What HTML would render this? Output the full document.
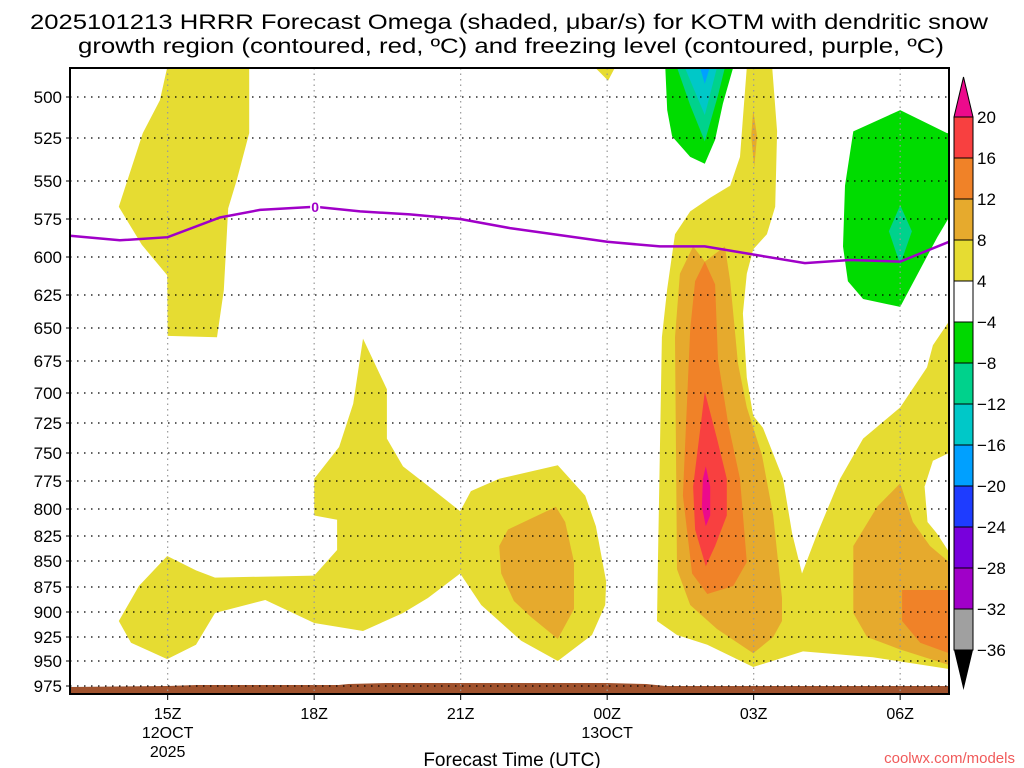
<!DOCTYPE html>
<html><head><meta charset="utf-8"><style>
html,body{margin:0;padding:0;background:#fff;}
svg{display:block;font-family:"Liberation Sans",sans-serif;}
</style></head><body>
<svg id="chart" width="1024" height="768" viewBox="0 0 1024 768" xmlns="http://www.w3.org/2000/svg">
<rect width="1024" height="768" fill="#fff"/>
<text x="30" y="29" font-size="21" textLength="958" lengthAdjust="spacingAndGlyphs">2025101213 HRRR Forecast Omega (shaded, μbar/s) for KOTM with dendritic snow</text>
<text x="78" y="53" font-size="21" textLength="866" lengthAdjust="spacingAndGlyphs">growth region (contoured, red, ºC) and freezing level (contoured, purple, ºC)</text>
<g id="fills"></g><g id="grid"></g><g id="lines"></g><g id="axes"></g><g id="cbar"></g>
<text x="512" y="766" font-size="19" text-anchor="middle">Forecast Time (UTC)</text>
<text x="1015" y="763" font-size="15" fill="#f05a5a" text-anchor="end">coolwx.com/models</text>
</svg>
<script>
// ---- data ----
const pressureTicks=[500,525,550,575,600,625,650,675,700,725,750,775,800,825,850,875,900,925,950,975];
const xTickHours=[2,5,8,11,14,17];
const xTickLabels=[["15Z","12OCT","2025"],["18Z"],["21Z"],["00Z","13OCT"],["03Z"],["06Z"]];
const freezeHours=[0,1.02,2,3.07,3.89,5.02,5.94,6.96,7.99,9.01,11.0,12.08,13.0,13.93,15.05,15.97,17.0,18.0];
const freezePres=[586,589,587,574,569,567,570,572,575,581,590,593,593,598,604,602,603,590];
const groundHours=[0,2.0,2.6,5.5,5.7,6.5,11.0,11.8,12.2,18];
const groundPres=[976,975,974,974,973,972,972,973,975,975];
const cbarLevels=["20","16","12","8","4","−4","−8","−12","−16","−20","−24","−28","−32","−36"];
const cbarColors=["#f84040","#f08228","#e6aa2d","#e6dc32","#ffffff","#00d800","#00d28c","#00c8c8","#00a0ff","#1e3cff","#7800dc","#a000c8","#a0a0a0"];
const C={y:"#e6dc32",g:"#e6aa2d",o:"#f08228",r:"#f84040",m:"#ec0a8c",gr:"#00dc00",t:"#00d28c",c:"#00c8c8",b:"#00a0ff"};
const regionA=[[1.99,482],[3.67,482],[3.67,522],[3.42,549],[3.24,568],[3.15,622],[3.01,657],[2.0,656],[1.99,612],[1.47,592],[1.0,567],[1.49,522],[1.84,502]];
const regionB=[[1.0,909],[1.41,874],[1.99,845],[2.58,859],[2.97,866],[5.0,864],[5.47,839],[5.47,810],[5.0,806],[5.0,773],[5.51,745],[5.8,709],[6.0,658],[6.49,697],[6.49,738],[6.82,762],[7.47,784],[7.99,802],[8.21,784],[8.79,773],[9.99,761],[10.55,788],[10.77,816],[10.98,870],[10.96,893],[10.69,923],[9.99,950],[9.24,929],[8.42,893],[7.99,862],[7.33,886],[6.82,901],[6.0,919],[5.0,911],[4.0,888],[2.97,901],[2.58,933],[1.99,948],[1.25,931]];
const regionBOrange=[[8.79,835],[8.97,819],[9.95,798],[10.14,812],[10.32,851],[10.32,897],[9.99,927],[9.44,905],[9.09,889],[8.83,862]];
const regionTopTiny=[[10.75,482],[11.16,482],[11.02,490]];
const regionDGreen=[[12.19,482],[13.58,482],[13.37,504],[13.21,526],[13.0,540],[12.7,536],[12.33,524],[12.23,508]];
const regionDTeal=[[12.43,482],[13.41,482],[13.27,499],[13.0,527],[12.7,505]];
const regionDCyan=[[12.59,482],[13.25,482],[13.0,511],[12.76,494]];
const regionDBlue=[[12.9,482],[13.1,482],[13.0,492]];
const regionE=[[13.86,482],[14.38,482],[14.48,521],[14.44,567],[14.27,585],[13.99,595],[13.86,611],[13.78,639],[13.86,688],[13.99,719],[14.19,729],[14.6,773],[14.79,823],[14.99,862],[15.3,823],[15.77,773],[16.24,738],[17.0,712],[17.55,680],[17.67,663],[18.0,645],[18.0,751],[17.67,759],[17.51,780],[17.57,810],[18.0,841],[18.0,958],[16.44,946],[15.01,940],[13.99,956],[13.05,933],[12.43,923],[12.02,909],[12.04,847],[12.12,657],[12.23,621],[12.39,585],[12.7,570],[13.11,561],[13.52,553],[13.72,536],[13.78,513]];
const regionEHole=[[18.1,748],[17.67,757],[17.5,780],[17.56,812],[18.1,843]];
const regionEGold=[[13.0,603],[13.41,593],[13.52,616],[13.68,677],[13.86,712],[14.17,752],[14.4,806],[14.58,886],[14.58,909],[14.4,925],[13.99,942],[13.25,917],[12.7,893],[12.43,858],[12.39,657],[12.49,611],[12.76,593]];
const regionEGoldSmall=[[13.99,508],[14.07,524],[14.01,542],[13.95,524]];
const regionEOrange=[[13.0,603],[13.21,618],[13.27,674],[13.48,726],[13.72,773],[13.86,851],[13.58,874],[13.05,882],[12.74,862],[12.55,788],[12.7,651],[12.8,616]];
const regionERed=[[13.0,699],[13.25,738],[13.45,773],[13.45,806],[13.21,835],[13.02,855],[12.8,819],[12.76,780],[12.86,745]];
const regionEMag=[[13.02,762],[13.11,780],[13.11,806],[13.02,816],[12.94,798],[12.96,773]];
const regionFGold=[[16.04,835],[16.53,798],[17.0,777],[17.26,812],[17.61,835],[18.0,851],[18.0,954],[17.0,938],[16.32,925],[16.04,901]];
const regionFOrange=[[17.04,878],[18.0,878],[18.0,942],[17.41,931],[17.04,909]];
const regionGGreen=[[16.04,521],[17.0,508],[17.96,522],[18.0,522],[18.0,574],[17.76,587],[17.41,608],[17.0,634],[16.24,628],[15.93,616],[15.83,593],[15.87,553]];
const regionGTeal=[[17.0,566],[17.24,583],[17.0,605],[16.77,583]];

// ---- axes ----
const L=70,R=949,T=68,B=694,H0=0,H1=18;
const tickY=[97,138,181,219,257,295,328,361,393,423,453,481,509,536,561,587,612,637,661,686];
function xs(h){return L+(h-H0)/(H1-H0)*(R-L);}
function ys(p){
  const P=pressureTicks;
  if(p<=P[0]) return tickY[0]+(p-P[0])*(tickY[1]-tickY[0])/25;
  for(let i=0;i<P.length-1;i++){ if(p<=P[i+1]) return tickY[i]+(p-P[i])/(P[i+1]-P[i])*(tickY[i+1]-tickY[i]); }
  return tickY[19]+(p-975)*(tickY[19]-tickY[18])/25;
}
const NS="http://www.w3.org/2000/svg";
function mk(tag,attrs,parent){const e=document.createElementNS(NS,tag);for(const k in attrs)e.setAttribute(k,attrs[k]);parent.appendChild(e);return e;}
const fills=document.getElementById('fills');
const cp=mk('clipPath',{id:'pc'},fills);
mk('rect',{x:L,y:T,width:R-L,height:B-T},cp);
const fg=mk('g',{'clip-path':'url(#pc)'},fills);
function region(pts,col,name){
  const p=mk('polygon',{points:pts.map(q=>xs(q[0]).toFixed(1)+','+ys(q[1]).toFixed(1)).join(' '),fill:col},fg);
  
  
}
region(regionA,C.y,'omega-region-4-8-a');
region(regionB,C.y,'omega-region-4-8-b');
region(regionBOrange,C.g,'omega-region-8-12-b');
region(regionTopTiny,C.y,'omega-region-4-8-top');
region(regionDGreen,C.gr,'omega-region-neg4-8-d');
region(regionDTeal,C.t,'omega-region-neg8-12-d');
region(regionDCyan,C.c,'omega-region-neg12-16-d');
region(regionDBlue,C.b,'omega-region-neg16-20-d');
region(regionE,C.y,'omega-region-4-8-e');
region(regionEHole,'#ffffff','omega-region-neutral-hole');
region(regionEGold,C.g,'omega-region-8-12-e');
region(regionEGoldSmall,C.g,'omega-region-8-12-e-upper');
region(regionEOrange,C.o,'omega-region-12-16-e');
region(regionERed,C.r,'omega-region-16-20-e');
region(regionEMag,C.m,'omega-region-20-plus-e');
region(regionFGold,C.g,'omega-region-8-12-f');
region(regionFOrange,C.o,'omega-region-12-16-f');
region(regionGGreen,C.gr,'omega-region-neg4-8-g');
region(regionGTeal,C.t,'omega-region-neg8-12-g');
// ground
let gp='M'+xs(groundHours[0])+','+B;
groundHours.forEach((h,i)=>{gp+=' L'+xs(h).toFixed(1)+','+ys(groundPres[i]).toFixed(1);});
gp+=' L'+xs(groundHours[groundHours.length-1])+','+B+' Z';
const gnd=mk('path',{d:gp,fill:'#a0522d'},fg);



// grid
const grid=document.getElementById('grid');
pressureTicks.forEach((p,i)=>{
  const y=ys(p);
  const l=mk('line',{x1:L,x2:R,y1:y,y2:y,stroke:'#000','stroke-width':1.2,'stroke-dasharray':'1.5,5.5'},grid);
  
  
  mk('line',{x1:L-4,x2:L,y1:y,y2:y,stroke:'#000','stroke-width':1},grid);
});
xTickHours.forEach((h,i)=>{
  const x=xs(h);
  const l=mk('line',{x1:x,x2:x,y1:T,y2:B,stroke:'#999','stroke-width':1.2,'stroke-dasharray':'1.5,4'},grid);
  
  
});

// freezing level
const lines=document.getElementById('lines');
const fl=mk('polyline',{points:freezeHours.map((h,i)=>xs(h).toFixed(1)+','+ys(freezePres[i]).toFixed(1)).join(' '),fill:'none',stroke:'#a000c8','stroke-width':2.5},lines);


const lbx=xs(freezeHours[5]),lby=ys(freezePres[5]);
mk('rect',{x:lbx-5,y:lby-7,width:10,height:14,fill:'#fff'},lines);
const zl=mk('text',{x:lbx,y:lby+5,'font-size':14,'font-weight':'bold',fill:'#a000c8','text-anchor':'middle'},lines);
zl.textContent='0';



// axes
const ax=document.getElementById('axes');
const fr=mk('rect',{x:L,y:T,width:R-L,height:B-T,fill:'none',stroke:'#000','stroke-width':2},ax);


pressureTicks.forEach(p=>{
  const t=mk('text',{x:62,y:ys(p)+6,'font-size':17,'text-anchor':'end'},ax);
  t.textContent=p;
  
  
});
xTickHours.forEach((h,i)=>{
  const x=xs(h);
  mk('line',{x1:x,x2:x,y1:B,y2:B+6,stroke:'#000','stroke-width':1},ax);
  xTickLabels[i].forEach((s,j)=>{
    const t=mk('text',{x:x,y:719+j*19,'font-size':16,'text-anchor':'middle'},ax);
    t.textContent=s;
    
    
  });
});

// colorbar
const cb=document.getElementById('cbar');
const cx=954,cw=19,c0=117,ch=41;
const up=mk('polygon',{points:`${cx},${c0} ${cx+cw},${c0} ${cx+cw/2},${c0-40}`,fill:C.m,stroke:'#000','stroke-width':1},cb);


cbarColors.forEach((col,i)=>{
  const r=mk('rect',{x:cx,y:c0+i*ch,width:cw,height:ch,fill:col,stroke:'#000','stroke-width':1},cb);
  
  
});
const yEnd=c0+cbarColors.length*ch;
const dn=mk('polygon',{points:`${cx},${yEnd} ${cx+cw},${yEnd} ${cx+cw/2},${yEnd+40}`,fill:'#000'},cb);


cbarLevels.forEach((s,i)=>{
  const t=mk('text',{x:977,y:c0+i*ch+6,'font-size':17},cb);
  t.textContent=s;
  
  
});
</script>
</body></html>
